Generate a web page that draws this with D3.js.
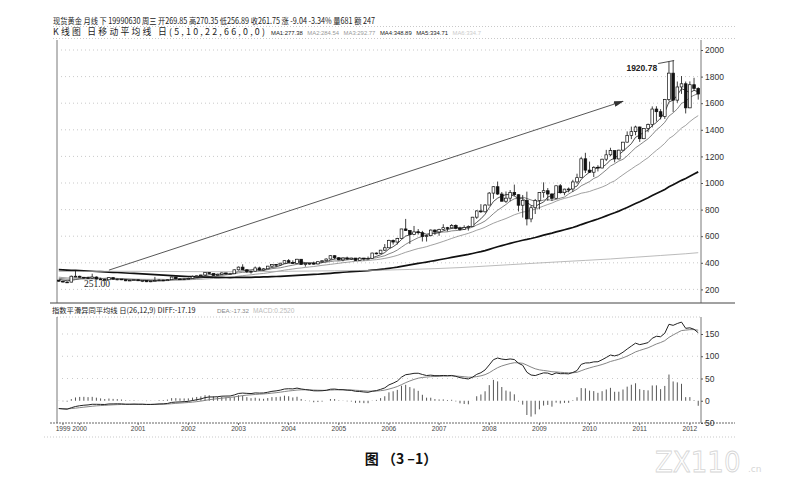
<!DOCTYPE html>
<html>
<head>
<meta charset="utf-8">
<script src="https://cdn.jsdelivr.net/npm/d3@7"></script>
<style>
  body { margin: 0; background: #fff; }
  svg { display: block; }
</style>
</head>
<body>
<svg id="chart" width="788" height="482"></svg>
<script>
// monthly spot gold, 1999-06 .. 2012-03
const opens = [
  269.85, 261.6, 255.5, 254.8, 299.0, 299.0, 291.4,
  288.0, 283.3, 293.0, 277.7, 274.4, 272.4, 288.2, 276.9, 277.8, 272.8, 264.5, 269.4,
  272.3, 264.8, 266.7, 257.4, 263.3, 267.3, 270.6, 265.5, 273.0, 293.1, 279.0, 275.5,
  279.0, 282.3, 296.9, 302.4, 308.2, 326.6, 318.5, 304.7, 312.8, 323.7, 316.9, 317.7,
  347.2, 367.5, 347.5, 334.9, 336.8, 361.4, 346.0, 354.8, 375.0, 388.0, 383.8, 397.0,
  416.1, 402.8, 395.9, 426.7, 387.5, 394.3, 395.8, 391.4, 408.3, 415.7, 428.4, 453.4,
  438.0, 422.2, 435.6, 427.5, 435.7, 417.3, 435.5, 429.0, 433.3, 473.3, 470.8, 495.0,
  513.0, 568.8, 556.0, 582.0, 654.5, 643.0, 614.0, 632.5, 626.0, 598.0, 604.0, 646.0,
  632.0, 650.5, 664.2, 662.7, 681.0, 659.6, 650.5, 666.1, 672.0, 743.0, 790.0, 783.5,
  834.0, 924.0, 972.0, 917.0, 863.0, 886.0, 928.5, 912.0, 833.0, 870.0, 730.0, 814.0,
  869.0, 928.0, 942.0, 917.0, 885.0, 979.0, 927.0, 954.0, 955.0, 1008.0, 1040.0, 1182.0,
  1097.0, 1081.0, 1118.0, 1113.0, 1179.0, 1212.0, 1244.0, 1181.0, 1247.0, 1307.0, 1357.0, 1386.0,
  1421.0, 1333.0, 1410.0, 1439.0, 1556.0, 1536.0, 1500.0, 1628.0, 1826.0, 1623.0, 1722.0, 1746.0,
  1565.0, 1739.0, 1711.0
];
const highs = [
  270.35, 264.0, 258.0, 304.0, 338.0, 303.0, 291.5,
  292.0, 318.0, 298.0, 288.0, 280.0, 292.0, 290.0, 280.0, 278.0, 275.0, 272.0, 277.0,
  273.0, 269.0, 268.0, 265.0, 294.0, 276.0, 272.0, 277.0, 295.0, 293.5, 283.0, 281.0,
  289.0, 304.0, 305.0, 311.0, 327.0, 330.0, 322.0, 318.0, 327.0, 326.0, 324.0, 350.0,
  372.0, 389.0, 352.0, 340.0, 372.0, 371.0, 361.0, 376.0, 390.0, 391.0, 400.0, 417.0,
  428.0, 419.0, 430.0, 428.0, 397.0, 398.0, 409.0, 411.0, 416.0, 433.0, 456.0, 456.0,
  443.0, 439.0, 446.0, 438.0, 436.0, 442.0, 437.0, 447.0, 476.0, 478.0, 497.0, 541.0,
  574.0, 575.0, 588.0, 655.0, 730.0, 645.0, 677.0, 654.0, 640.0, 611.0, 651.0, 652.0,
  656.0, 690.0, 670.0, 691.0, 689.0, 671.0, 682.0, 681.0, 745.0, 795.0, 841.0, 842.0,
  932.0, 975.0, 1011.0, 932.0, 936.0, 947.0, 988.0, 915.0, 910.0, 935.0, 828.0, 880.0,
  930.0, 1005.0, 962.0, 924.0, 980.0, 992.0, 957.0, 966.0, 1024.0, 1070.0, 1195.0, 1227.0,
  1161.0, 1126.0, 1134.0, 1182.0, 1249.0, 1265.0, 1244.5, 1250.0, 1309.0, 1388.0, 1424.0, 1431.0,
  1424.0, 1411.0, 1447.0, 1576.0, 1577.0, 1555.0, 1632.0, 1913.0, 1920.78, 1763.0, 1804.0, 1763.0,
  1764.0, 1791.0, 1720.0
];
const lows = [
  256.89, 251.0, 251.5, 253.0, 292.0, 289.0, 279.5,
  281.0, 282.0, 274.0, 272.0, 270.5, 271.5, 275.0, 269.0, 270.0, 262.0, 263.0, 267.0,
  263.0, 255.0, 255.0, 254.0, 262.0, 264.0, 263.0, 263.0, 270.0, 276.0, 271.0, 271.0,
  277.0, 282.0, 289.0, 299.0, 306.0, 315.0, 302.0, 302.0, 310.0, 312.0, 315.0, 317.0,
  342.0, 346.0, 324.0, 319.0, 335.0, 342.0, 342.0, 353.0, 369.0, 367.0, 378.0, 396.0,
  400.0, 392.0, 394.0, 386.0, 371.0, 385.0, 386.0, 388.0, 400.0, 412.0, 424.0, 426.0,
  418.0, 411.0, 425.0, 422.0, 414.0, 414.0, 416.0, 426.0, 432.0, 463.0, 468.0, 489.0,
  513.0, 537.0, 538.0, 580.0, 639.0, 542.0, 608.0, 612.0, 560.0, 560.0, 598.0, 610.0,
  603.0, 644.0, 636.0, 660.0, 652.0, 642.0, 648.0, 642.0, 670.0, 730.0, 775.0, 778.0,
  834.0, 881.0, 910.0, 862.0, 850.0, 862.0, 902.0, 786.0, 740.0, 681.0, 705.0, 767.0,
  802.0, 890.0, 866.0, 865.0, 882.0, 920.0, 908.0, 930.0, 932.0, 995.0, 1040.0, 1075.0,
  1075.0, 1045.0, 1087.0, 1110.0, 1165.0, 1201.0, 1155.0, 1176.0, 1242.0, 1305.0, 1330.0, 1359.0,
  1309.0, 1330.0, 1382.0, 1418.0, 1462.0, 1478.0, 1482.0, 1614.0, 1534.0, 1603.0, 1670.0, 1523.0,
  1563.0, 1695.0, 1627.0
];
const closes = [
  261.75, 255.6, 254.8, 299.0, 299.1, 291.4, 288.0,
  283.3, 293.0, 277.7, 274.4, 272.4, 288.2, 276.9, 277.8, 272.8, 264.5, 269.4, 272.3,
  264.8, 266.7, 257.4, 263.3, 267.3, 270.6, 265.5, 273.0, 293.1, 279.0, 275.5, 279.0,
  282.3, 296.9, 302.4, 308.2, 326.6, 318.5, 304.7, 312.8, 323.7, 316.9, 317.7, 347.2,
  367.5, 347.5, 334.9, 336.8, 361.4, 346.0, 354.8, 375.0, 388.0, 383.8, 397.0, 416.1,
  402.8, 395.9, 426.7, 387.5, 394.3, 395.8, 391.4, 408.3, 415.7, 428.4, 453.4, 438.0,
  422.2, 435.6, 427.5, 435.7, 417.3, 435.5, 429.0, 433.3, 473.3, 470.8, 495.0, 513.0,
  568.8, 556.0, 582.0, 654.5, 643.0, 614.0, 632.5, 626.0, 598.0, 604.0, 646.0, 632.0,
  650.5, 664.2, 662.7, 681.0, 659.6, 650.5, 666.1, 672.0, 743.0, 790.0, 783.5, 834.0,
  924.0, 972.0, 917.0, 863.0, 886.0, 928.5, 912.0, 833.0, 870.0, 730.0, 814.0, 869.0,
  928.0, 942.0, 917.0, 885.0, 979.0, 927.0, 954.0, 955.0, 1008.0, 1040.0, 1182.0, 1097.0,
  1081.0, 1118.0, 1113.0, 1179.0, 1212.0, 1244.0, 1181.0, 1247.0, 1307.0, 1357.0, 1386.0, 1421.0,
  1333.0, 1410.0, 1439.0, 1556.0, 1536.0, 1500.0, 1628.0, 1826.0, 1623.0, 1722.0, 1746.0, 1565.0,
  1739.0, 1711.0, 1669.0
];
// closes before the first bar (1994-01 .. 1999-05), only used to warm up the averages
const priorCloses = [
  377, 381, 391, 376, 387, 388, 385, 386, 394, 383, 383, 383,
  375, 376, 392, 389, 385, 387, 383, 382, 384, 383, 387, 387,
  405, 400, 396, 392, 391, 382, 385, 387, 379, 379, 371, 369,
  345, 364, 351, 340, 345, 334, 326, 325, 332, 311, 296, 290,
  304, 297, 301, 310, 293, 296, 288, 273, 293, 292, 294, 288,
  288, 287, 280, 286, 268
];
// long MA5 line, every six months
const ma5Months = [0, 6, 12, 18, 24, 30, 36, 42, 48, 54, 60, 66, 72, 78, 84, 90, 96,
  102, 108, 114, 120, 126, 132, 138, 144, 150, 153];
const ma5Values = [334.7, 335, 336, 336, 335, 334, 333, 333, 334, 336, 338, 340, 342, 345,
  350, 356, 364, 375, 386, 397, 408, 418, 429, 442, 455, 468, 476];
const maPeriods = [5, 10, 22, 66];
const priceTicks = [200, 400, 600, 800, 1000, 1200, 1400, 1600, 1800, 2000];
const macdTicks = [150, 100, 50, 0, -50];
const macdTickLabels = ["150", "100", "50", "0", "50"];
const yearLabels = ["1999", "2000", "2001", "2002", "2003", "2004", "2005", "2006",
  "2007", "2008", "2009", "2010", "2011", "2012"];
const yearMonths = [1, 5, 19, 31, 43, 55, 67, 79, 91, 103, 115, 127, 139, 151];
// trend arrow: [month index, price]
const trendLine = [[12, 345], [135, 1615]];
const highMark = { i: 147, v: 1920.78 };
const lowMark = { i: 1, v: 251.0 };

const svg = d3.select("#chart");
const cjk = "'Noto Sans CJK SC', 'Noto Sans', sans-serif";
const num = "'Liberation Sans', Arial, sans-serif";
const ink = "#222";

const n = closes.length;
const idx = d3.range(n);
const left = 57;
const right = 700;

const x = d3.scaleBand().domain(idx).range([left, right]).paddingInner(0.35).paddingOuter(0.1);
const cx = (i) => x(i) + x.bandwidth() / 2;
const y = d3.scaleLinear().domain([200, 2000]).range([289.4, 50]);
const ym = d3.scaleLinear().domain([-50, 150]).range([423, 334]);

// moving averages with warm-up history
const all = priorCloses.concat(closes);
const off = priorCloses.length;
function sma(period) {
  return idx.map((i) => d3.mean(all.slice(off + i - period + 1, off + i + 1)));
}
function ema(values, period) {
  let prev = values[0];
  return values.map((v, k) => {
    if (k === 0) return v;
    prev = (2 * v + (period - 1) * prev) / (period + 1);
    return prev;
  });
}
const e12 = ema(all, 12);
const e26 = ema(all, 26);
const diffAll = all.map((v, k) => e12[k] - e26[k]);
const deaAll = ema(diffAll, 9);
const diff = diffAll.slice(off);
const dea = deaAll.slice(off);
const macd = diff.map((v, k) => 2 * (v - dea[k]));

// ---------- frame & header ----------
const hline = (y0, x1, x2, color, dash, w = 0.8) =>
  svg.append("line")
    .attr("x1", x1).attr("x2", x2).attr("y1", y0).attr("y2", y0)
    .attr("stroke", color).attr("stroke-width", w)
    .attr("stroke-dasharray", dash);

hline(26.5, 53, 735, "#bbb", "1,2");
hline(38.5, 53, 735, "#bbb", "1,2");
hline(303, 50, 735, "#444", null, 1);
hline(317, left, right + 1, "#bbb", "1,2");
hline(423, 50, 735, "#666", "2,1", 1);
hline(437, 44, 735, "#bbb", "1,2");

svg.append("text")
  .attr("x", 53).attr("y", 23.5)
  .attr("font-family", cjk).attr("font-size", 8.5).attr("fill", ink)
  .attr("textLength", 322).attr("lengthAdjust", "spacingAndGlyphs")
  .text("现货黄金 月线 下 19990630 周三 开269.85 高270.35 低256.89 收261.75 涨 -9.04 -3.34% 量681 额 247");

svg.append("text")
  .attr("x", 53).attr("y", 35)
  .attr("font-family", cjk).attr("font-size", 8.8).attr("fill", ink)
  .attr("textLength", 212).attr("lengthAdjust", "spacing")
  .text("K线图 日移动平均线 日(5,10,22,66,0,0)");

const legendParts = [
  { t: "MA1:277.38", c: ink },
  { t: "MA2:284.54", c: "#999" },
  { t: "MA3:292.77", c: "#999" },
  { t: "MA4:348.89", c: ink },
  { t: "MA5:334.71", c: ink },
  { t: "MA6:334.7", c: "#ccc" }
];
svg.append("g").selectAll("text").data(legendParts).join("text")
  .attr("x", (d, k) => 271 + k * 36.3).attr("y", 35)
  .attr("font-family", num).attr("font-size", 5.9)
  .attr("fill", (d) => d.c)
  .text((d) => d.t);

const macdParts = [
  { t: "指数平滑异同平均线 日(26,12,9) DIFF:-17.19", x: 52, c: ink, f: cjk, s: 7.3 },
  { t: "DEA:-17.32", x: 217, c: "#888", f: num, s: 6.2 },
  { t: "MACD:0.2520", x: 253, c: "#bbb", f: num, s: 6.6 }
];
svg.append("g").selectAll("text").data(macdParts).join("text")
  .attr("x", (d) => d.x).attr("y", 312.5)
  .attr("font-family", (d) => d.f).attr("font-size", (d) => d.s)
  .attr("fill", (d) => d.c)
  .text((d) => d.t);

// panel borders
[[40, 303], [317, 423]].forEach(([a, b]) => {
  [left, right + 1].forEach((xx) => {
    svg.append("line").attr("x1", xx).attr("x2", xx).attr("y1", a).attr("y2", b)
      .attr("stroke", "#555").attr("stroke-width", 0.8);
  });
});

// ---------- price panel ----------
svg.append("g").selectAll("line").data(priceTicks).join("line")
  .attr("x1", left).attr("x2", right)
  .attr("y1", (d) => y(d)).attr("y2", (d) => y(d))
  .attr("stroke", "#bbb").attr("stroke-width", 0.8).attr("stroke-dasharray", "1,3");

const yAxis = svg.append("g")
  .attr("transform", `translate(${right + 1},0)`)
  .call(d3.axisRight(y).tickValues(priceTicks).tickSize(2).tickPadding(2).tickFormat(d3.format("d")));
yAxis.select(".domain").remove();
yAxis.selectAll("text").attr("font-family", num).attr("font-size", 8.5).attr("fill", "#333");
yAxis.selectAll("line").attr("stroke", "#555");

// moving average lines
const maStyles = [
  { c: "#222", w: 0.8 },
  { c: "#666", w: 0.8 },
  { c: "#888", w: 0.8 },
  { c: "#111", w: 1.7 }
];
const lineGen = d3.line().x((d, i) => cx(i)).y((d) => y(d));
maPeriods.forEach((p, k) => {
  svg.append("path")
    .datum(sma(p))
    .attr("fill", "none")
    .attr("stroke", maStyles[k].c)
    .attr("stroke-width", maStyles[k].w)
    .attr("d", lineGen);
});
svg.append("path")
  .datum(ma5Values)
  .attr("fill", "none")
  .attr("stroke", "#aaa")
  .attr("stroke-width", 0.8)
  .attr("d", d3.line().curve(d3.curveMonotoneX).x((d, k) => cx(ma5Months[k])).y((d) => y(d)));

// candles
const candles = svg.append("g").selectAll("g").data(idx).join("g");
candles.append("line")
  .attr("x1", (i) => cx(i)).attr("x2", (i) => cx(i))
  .attr("y1", (i) => y(highs[i])).attr("y2", (i) => y(lows[i]))
  .attr("stroke", "#111").attr("stroke-width", 0.8);
candles.append("rect")
  .attr("x", (i) => x(i))
  .attr("y", (i) => y(Math.max(opens[i], closes[i])))
  .attr("width", x.bandwidth())
  .attr("height", (i) => Math.max(0.8, Math.abs(y(opens[i]) - y(closes[i]))))
  .attr("fill", (i) => (closes[i] >= opens[i] ? "#fff" : "#111"))
  .attr("stroke", "#111").attr("stroke-width", 0.7);

// trend arrow
svg.append("defs").append("marker")
  .attr("id", "arrow")
  .attr("viewBox", "0 0 10 6")
  .attr("refX", 9).attr("refY", 3)
  .attr("markerWidth", 10).attr("markerHeight", 6)
  .attr("markerUnits", "userSpaceOnUse")
  .attr("orient", "auto")
  .append("path").attr("d", "M0,0 L10,3 L0,6 z").attr("fill", "#333");
svg.append("line")
  .attr("x1", cx(trendLine[0][0])).attr("y1", y(trendLine[0][1]))
  .attr("x2", cx(trendLine[1][0])).attr("y2", y(trendLine[1][1]))
  .attr("stroke", "#444").attr("stroke-width", 0.9)
  .attr("marker-end", "url(#arrow)");

// high / low marks
const hx = cx(highMark.i);
const hy = y(highMark.v);
svg.append("line")
  .attr("x1", hx - 15).attr("y1", hy + 3).attr("x2", hx + 1).attr("y2", hy)
  .attr("stroke", "#222").attr("stroke-width", 0.8);
svg.append("text")
  .attr("x", hx - 16).attr("y", hy + 10)
  .attr("text-anchor", "end")
  .attr("font-family", num)
  .attr("font-size", 8.5).attr("font-weight", "bold").attr("fill", "#222")
  .text(d3.format(".2f")(highMark.v));
svg.append("text")
  .attr("x", cx(lowMark.i) + 21).attr("y", y(lowMark.v) + 4)
  .attr("font-family", "'Liberation Serif', serif")
  .attr("font-size", 9.5).attr("fill", "#222")
  .text(d3.format(".2f")(lowMark.v));

// ---------- MACD panel ----------
svg.append("g").selectAll("line").data([150, 100, 50]).join("line")
  .attr("x1", left).attr("x2", right)
  .attr("y1", (d) => ym(d)).attr("y2", (d) => ym(d))
  .attr("stroke", "#bbb").attr("stroke-width", 0.8).attr("stroke-dasharray", "1,4");

const mAxis = svg.append("g")
  .attr("transform", `translate(${right + 1},0)`)
  .call(d3.axisRight(ym).tickValues(macdTicks).tickSize(2).tickPadding(2)
    .tickFormat((d, k) => macdTickLabels[k]));
mAxis.select(".domain").remove();
mAxis.selectAll("text").attr("font-family", num).attr("font-size", 8.5).attr("fill", "#333");
mAxis.selectAll("line").attr("stroke", "#555");

svg.append("g").selectAll("line").data(idx).join("line")
  .attr("x1", (i) => cx(i)).attr("x2", (i) => cx(i))
  .attr("y1", ym(0)).attr("y2", (i) => ym(macd[i]))
  .attr("stroke", "#444").attr("stroke-width", 0.9);

const mLine = d3.line().x((d, i) => cx(i)).y((d) => ym(d));
svg.append("path").datum(dea).attr("fill", "none")
  .attr("stroke", "#777").attr("stroke-width", 0.9).attr("d", mLine);
svg.append("path").datum(diff).attr("fill", "none")
  .attr("stroke", "#222").attr("stroke-width", 1).attr("d", mLine);

// year axis
const yearOf = new Map(yearMonths.map((m, k) => [m, yearLabels[k]]));
const xAxis = svg.append("g")
  .attr("transform", "translate(0,423)")
  .call(d3.axisBottom(x).tickValues(yearMonths).tickSize(2).tickPadding(1)
    .tickFormat((d) => yearOf.get(d)));
xAxis.select(".domain").remove();
xAxis.selectAll("text").attr("font-family", num).attr("font-size", 6.6).attr("fill", "#444");
xAxis.selectAll("line").attr("stroke", "#666");

// ---------- caption & watermark ----------
svg.append("text")
  .attr("x", 401).attr("y", 464)
  .attr("text-anchor", "middle")
  .attr("font-family", cjk).attr("font-size", 14).attr("font-weight", "bold")
  .attr("fill", "#111")
  .text("图 （3 –1）");

svg.append("text")
  .attr("x", 655).attr("y", 472)
  .attr("font-family", "'DejaVu Sans Condensed', 'DejaVu Sans', sans-serif").attr("font-size", 29)
  .attr("fill", "none").attr("stroke", "#d6d6d6").attr("stroke-width", 0.8)
  .text("ZX110");
svg.append("text")
  .attr("x", 748).attr("y", 472)
  .attr("font-family", "'DejaVu Sans', sans-serif").attr("font-size", 9)
  .attr("fill", "#d6d6d6")
  .text(".cn");
</script>
</body>
</html>
